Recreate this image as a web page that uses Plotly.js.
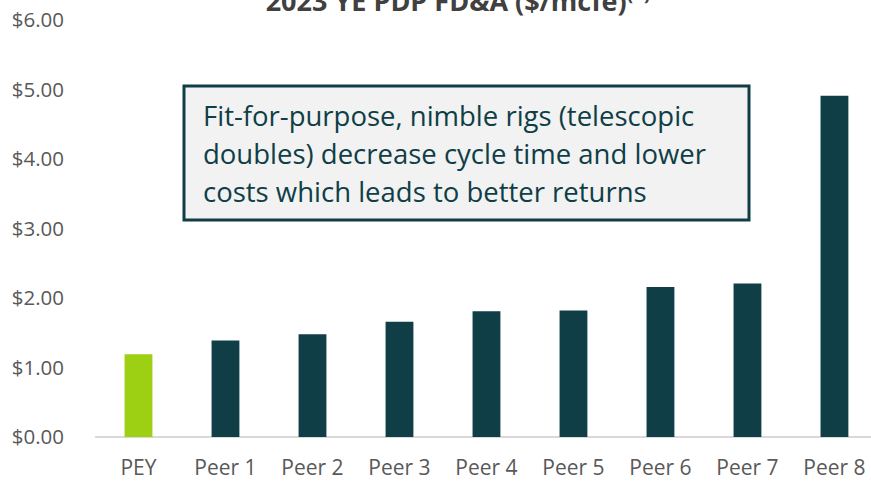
<!DOCTYPE html>
<html>
<head>
<meta charset="utf-8">
<script src="https://cdn.plot.ly/plotly-3.0.1.min.js"></script>
<style>html,body{margin:0;padding:0;background:#fff;}#chart{width:871px;height:481px;}</style>
</head>
<body>
<div id="chart"></div>
<script>
const categories = ["PEY", "Peer 1", "Peer 2", "Peer 3", "Peer 4", "Peer 5", "Peer 6", "Peer 7", "Peer 8"];
const fdaValues = [1.19, 1.39, 1.48, 1.66, 1.81, 1.82, 2.16, 2.21, 4.91];
const barColors = ["#9dcf12", "#0f3e46", "#0f3e46", "#0f3e46", "#0f3e46", "#0f3e46", "#0f3e46", "#0f3e46", "#0f3e46"];
const yTickValues = [0, 1, 2, 3, 4, 5, 6];
const yTickLabels = ["$0.00", "$1.00", "$2.00", "$3.00", "$4.00", "$5.00", "$6.00"];
const titleText = "2023 YE PDP FD&A ($/mcfe)<sup>(1)</sup>";
const calloutLines = [
  "Fit-for-purpose, nimble rigs (telescopic",
  "doubles) decrease cycle time and lower",
  "costs which leads to better returns"
];

const FONT = "'Open Sans', 'Noto Sans', sans-serif";
const TEAL = "#0f3e46";

const trace = {
  type: "bar",
  x: categories,
  y: fdaValues,
  marker: { color: barColors, line: { width: 0 } },
  hoverinfo: "skip"
};

const lineY = [0.771, 0.680, 0.589];
const annotations = calloutLines.map((t, i) => ({
  text: t,
  xref: "paper", yref: "paper",
  x: (201 - 95) / 776, y: lineY[i],
  xanchor: "left", yanchor: "middle",
  showarrow: false,
  align: "left",
  font: { family: FONT, size: 27.5, color: TEAL }
}));

const layout = {
  width: 871, height: 481,
  margin: { l: 95, r: 0, t: 20, b: 44, pad: 0 },
  paper_bgcolor: "#ffffff",
  plot_bgcolor: "#ffffff",
  showlegend: false,
  bargap: 0.68,
  title: {
    text: titleText,
    font: { family: FONT, size: 27, color: "#404040", weight: "bold" },
    xref: "container", yref: "container",
    x: 458 / 871, xanchor: "center",
    y: 0.996, yanchor: "middle"
  },
  xaxis: {
    type: "category",
    range: [-0.5, 8.42],
    showgrid: false,
    zeroline: false,
    showline: false,
    ticks: "",
    ticklabelstandoff: 16,
    tickfont: { family: FONT, size: 21, color: "#595959" },
    fixedrange: true
  },
  yaxis: {
    range: [0, 6],
    tickvals: yTickValues,
    ticktext: yTickLabels,
    showgrid: false,
    zeroline: true,
    zerolinecolor: "#d9d9d9",
    zerolinewidth: 2,
    showline: false,
    ticks: "",
    ticklabelstandoff: 30,
    tickfont: { family: FONT, size: 20.5, color: "#595959" },
    fixedrange: true
  },
  shapes: [{
    type: "rect",
    xref: "paper", yref: "paper",
    x0: (184 - 95) / 776, x1: (749 - 95) / 776,
    y0: (437 - 220) / 417, y1: (437 - 86) / 417,
    fillcolor: "#f2f2f2",
    line: { color: TEAL, width: 3 },
    layer: "above"
  }],
  annotations: annotations
};

Plotly.newPlot("chart", [trace], layout, { displayModeBar: false, staticPlot: true });
</script>
</body>
</html>
